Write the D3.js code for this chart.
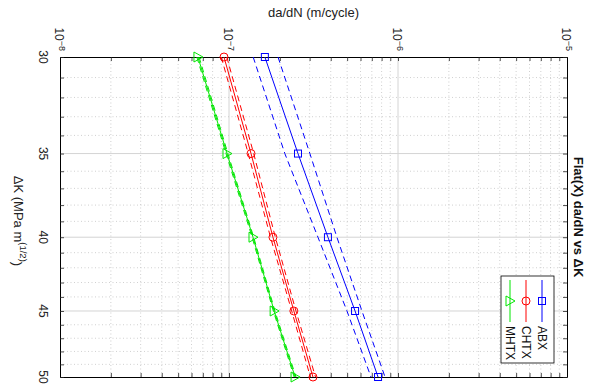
<!DOCTYPE html>
<html><head><meta charset="utf-8">
<script src="https://cdn.jsdelivr.net/npm/d3@7"></script>
<style>body{margin:0;background:#fff}svg{display:block;font-family:"Liberation Sans",Arial,sans-serif}</style>
</head><body><svg id="c" width="589" height="391"></svg>
<script>
// ---- data ----
const dK = [30, 35, 40, 45, 50];
const series = ["ABX", "CHTX", "MHTX"];
const abx      = [1.63e-7, 2.56e-7, 3.85e-7, 5.57e-7, 7.62e-7];
const abxLo    = [1.39e-7, 2.14e-7, 3.36e-7, 4.99e-7, 6.92e-7];
const abxHi    = [1.95e-7, 3.01e-7, 4.35e-7, 6.12e-7, 8.38e-7];
const chtx     = [9.34e-8, 1.35e-7, 1.82e-7, 2.42e-7, 3.14e-7];
const chtxLo   = [9.0e-8, 1.30e-7, 1.76e-7, 2.35e-7, 3.03e-7];
const chtxHi   = [9.7e-8, 1.40e-7, 1.88e-7, 2.49e-7, 3.25e-7];
const mhtx     = [6.55e-8, 9.73e-8, 1.387e-7, 1.85e-7, 2.46e-7];
const mhtxLo   = [6.45e-8, 9.6e-8, 1.37e-7, 1.83e-7, 2.43e-7];
const mhtxHi   = [6.65e-8, 9.85e-8, 1.40e-7, 1.87e-7, 2.49e-7];
const xDecades = [-8, -7, -6, -5];
const yTickLabels = [30, 35, 40, 45, 50];
const title = "Flat(X) da/dN vs \u0394K";
const xLabel = "da/dN (m/cycle)";

// ---- drawing ----
const svg = d3.select("#c");
const L = 60, R = 567, T = 57, B = 377;
const x = d3.scaleLog().domain([1e-8, 1e-5]).range([L, R]);
const y = d3.scaleLog().domain([30, 50]).range([T, B]);

const xMinor = [];
for (let d = -8; d < -5; d++) for (let k = 1; k <= 9; k++) xMinor.push(k * Math.pow(10, d));
xMinor.push(1e-5);
const yMinor = d3.range(30, 51);

// grid
const grid = svg.append("g");
xMinor.forEach(v => {
  const isMajor = Math.abs(Math.log10(v) - Math.round(Math.log10(v))) < 1e-9;
  if (v <= 1e-8 || v >= 1e-5) return;
  grid.append("line").attr("x1", x(v)).attr("x2", x(v)).attr("y1", T).attr("y2", B)
    .attr("stroke", isMajor ? "#d4d4d4" : "#c4c4c4").attr("stroke-width", isMajor ? 1 : 0.8)
    .attr("stroke-dasharray", isMajor ? null : "1,2.5");
});
yMinor.forEach(v => {
  if (v === 30 || v === 50) return;
  const isMajor = v % 5 === 0;
  grid.append("line").attr("y1", y(v)).attr("y2", y(v)).attr("x1", L).attr("x2", R)
    .attr("stroke", isMajor ? "#d4d4d4" : "#c4c4c4").attr("stroke-width", isMajor ? 1 : 0.8)
    .attr("stroke-dasharray", isMajor ? null : "1,2.5");
});

// axes (ticks inward)
const tk = 4;
svg.append("g").attr("transform", `translate(0,${T})`)
  .call(d3.axisTop(x).tickValues(xMinor).tickSize(-tk).tickFormat("").tickSizeOuter(0));
svg.append("g").attr("transform", `translate(0,${B})`)
  .call(d3.axisBottom(x).tickValues(xMinor).tickSize(-tk).tickFormat("").tickSizeOuter(0));
svg.append("g").attr("transform", `translate(${L},0)`)
  .call(d3.axisLeft(y).tickValues(yMinor).tickSize(-tk).tickFormat("").tickSizeOuter(0));
svg.append("g").attr("transform", `translate(${R},0)`)
  .call(d3.axisRight(y).tickValues(yMinor).tickSize(-tk).tickFormat("").tickSizeOuter(0));
svg.selectAll(".domain").attr("stroke", "#000").attr("stroke-width", 1);
svg.selectAll(".tick line").attr("stroke", "#222").attr("stroke-width", 0.8);

// tick labels (rotated)
xDecades.forEach(d => {
  const t = svg.append("text")
    .attr("transform", `translate(${x(Math.pow(10, d)) - 1},${T - 6}) rotate(90)`)
    .attr("text-anchor", "end").attr("dy", "0.35em").attr("font-size", 12).attr("fill", "#222");
  t.append("tspan").text("10");
  t.append("tspan").attr("dy", "-0.5em").attr("font-size", 9).text("\u2212" + Math.abs(d));
});
yTickLabels.forEach(v => {
  svg.append("text").attr("transform", `translate(${L - 17},${y(v)}) rotate(90)`)
    .attr("text-anchor", "middle").attr("dy", "0.35em").attr("font-size", 12).attr("fill", "#222").text(v);
});

// axis labels and title
svg.append("text").attr("x", (L + R) / 2).attr("y", 17).attr("text-anchor", "middle")
  .attr("font-size", 13).attr("fill", "#222").text(xLabel);
const yl = svg.append("text").attr("transform", `translate(19,${(T + B) / 2 + 4}) rotate(90)`)
  .attr("text-anchor", "middle").attr("dy", "0.35em").attr("font-size", 13).attr("fill", "#222");
yl.append("tspan").text("\u0394K (MPa m");
yl.append("tspan").attr("dy", "-0.55em").attr("font-size", 9.5).text("(1/2)");
yl.append("tspan").attr("dy", "0.55em").text(")");
svg.append("text").attr("transform", `translate(579,${(T + B) / 2}) rotate(90)`)
  .attr("text-anchor", "middle").attr("dy", "0.35em").attr("font-size", 13).attr("font-weight", "bold")
  .attr("fill", "#111").text(title);

// series
const colors = {ABX: "#0000ff", CHTX: "#ff0000", MHTX: "#00e600"};
const data = {
  ABX: {v: abx, lo: abxLo, hi: abxHi, m: "square"},
  CHTX: {v: chtx, lo: chtxLo, hi: chtxHi, m: "circle"},
  MHTX: {v: mhtx, lo: mhtxLo, hi: mhtxHi, m: "tri"}
};
const line = d3.line().x(d => x(d[1])).y(d => y(d[0]));
function marker(g, m, cx, cy, c) {
  if (m === "square") g.append("rect").attr("x", cx - 3.5).attr("y", cy - 3.5).attr("width", 7).attr("height", 7);
  else if (m === "circle") g.append("circle").attr("cx", cx).attr("cy", cy).attr("r", 4);
  else g.append("path").attr("d", `M${cx + 5},${cy} L${cx - 4},${cy - 5} L${cx - 4},${cy + 5} Z`);
  g.selectAll("*").attr("fill", "none").attr("stroke", c).attr("stroke-width", 1);
}
const plot = svg.append("g");
series.forEach(s => {
  const c = colors[s], D = data[s];
  ["lo", "hi"].forEach(k => {
    plot.append("path").attr("d", line(dK.map((k2, i) => [k2, D[k][i]])))
      .attr("fill", "none").attr("stroke", c).attr("stroke-width", 1).attr("stroke-dasharray", "6,4");
  });
  plot.append("path").attr("d", line(dK.map((k2, i) => [k2, D.v[i]])))
    .attr("fill", "none").attr("stroke", c).attr("stroke-width", 1);
  dK.forEach((k2, i) => marker(plot.append("g"), D.m, x(D.v[i]), y(k2), c));
});

// legend
const lg = svg.append("g");
lg.append("rect").attr("x", 501).attr("y", 276).attr("width", 53).attr("height", 87)
  .attr("fill", "#fff").attr("stroke", "#000").attr("stroke-width", 0.8);
series.forEach((s, i) => {
  const cx = 542 - i * 16, c = colors[s];
  lg.append("line").attr("x1", cx).attr("x2", cx).attr("y1", 280).attr("y2", 322)
    .attr("stroke", c).attr("stroke-width", 1);
  marker(lg.append("g"), data[s].m, cx, 301, c);
  lg.append("text").attr("transform", `translate(${cx},326) rotate(90)`)
    .attr("dy", "0.35em").attr("font-size", 12).attr("fill", "#111").text(s);
});
</script></body></html>
